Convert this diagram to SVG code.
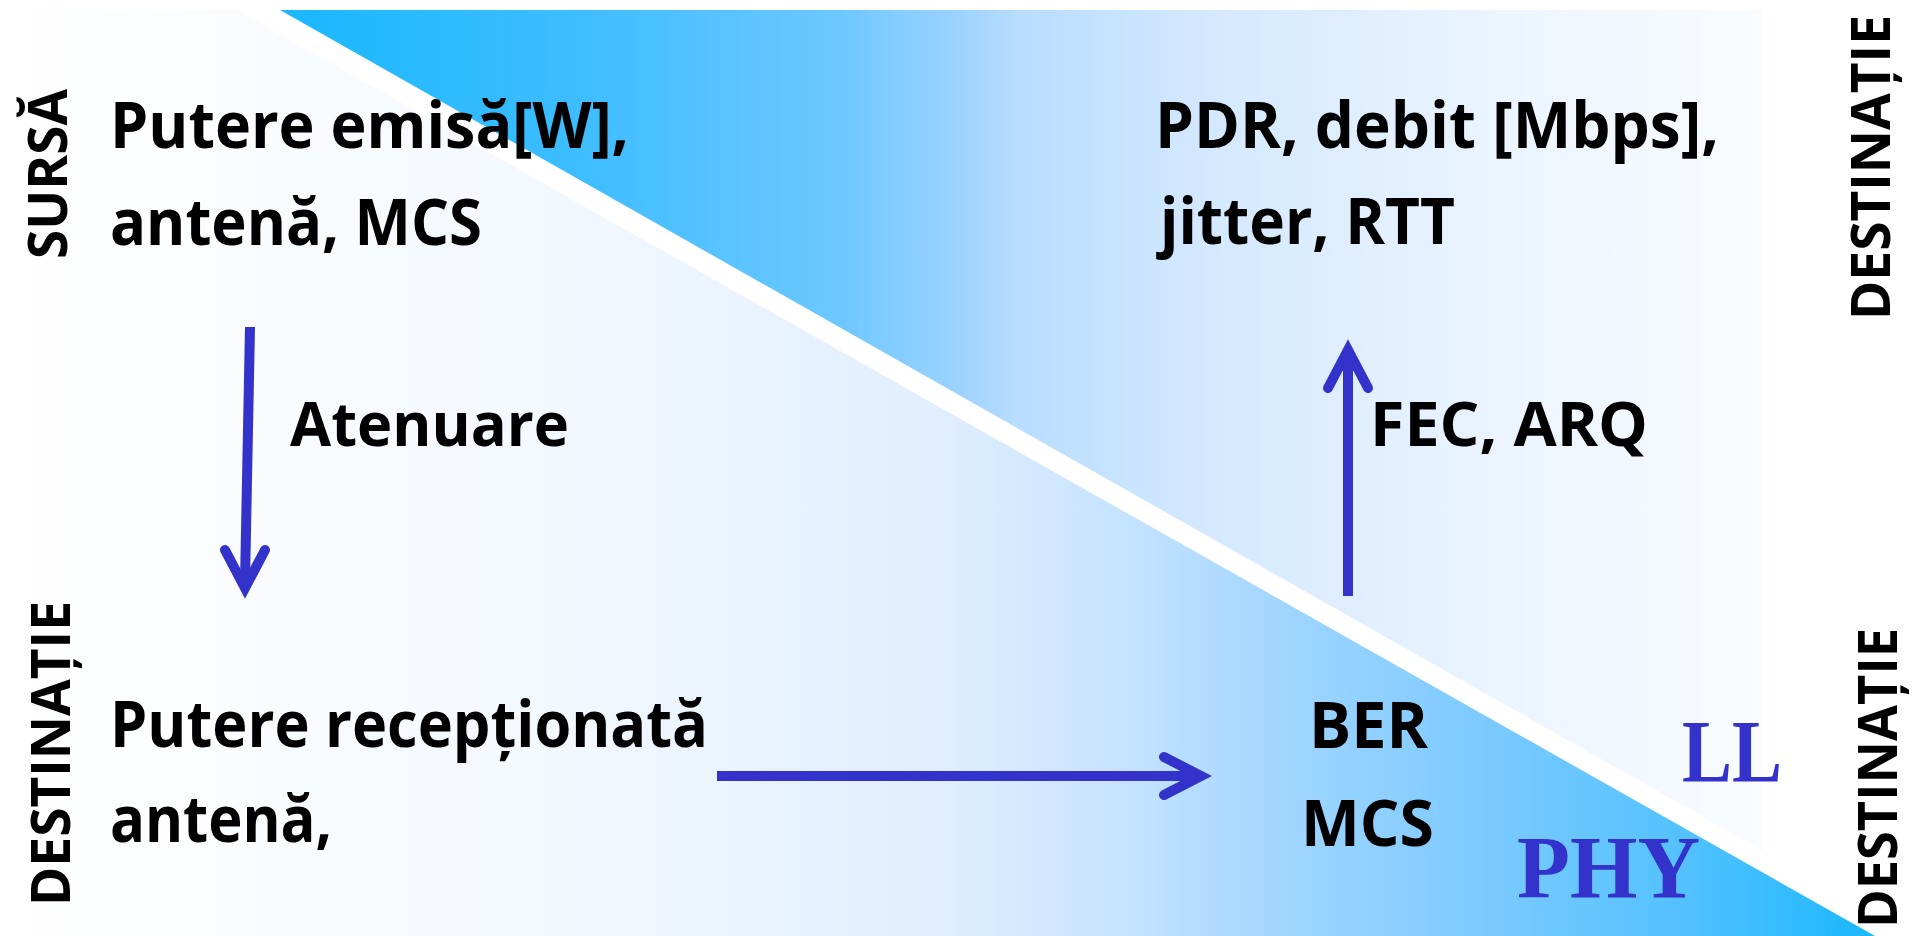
<svg xmlns="http://www.w3.org/2000/svg" width="1914" height="936" viewBox="0 0 1914 936">
  <style>
    .lbl { font-family: "Open Sans", "Noto Sans", "Liberation Sans", sans-serif; font-weight: 700; fill: #000; }
    .main { font-size: 65px; }
    .mid { font-size: 61px; }
    .side { font-size: 54px; }
    .layer { font-family: "Liberation Serif", "Times New Roman", serif; font-weight: 700; font-size: 88px; fill: #3333cc; }
    .arrow { fill: none; stroke: #3333cc; stroke-width: 10; stroke-linecap: round; stroke-linejoin: miter; }
    .shaft { fill: none; stroke: #3333cc; stroke-width: 10; stroke-linecap: butt; }
  </style>
  <defs>
    <linearGradient id="gradLower" gradientUnits="userSpaceOnUse" x1="0" y1="0" x2="1875" y2="0">
      <stop offset="0" stop-color="#ffffff"/>
      <stop offset="0.3" stop-color="#f3f8ff"/>
      <stop offset="0.5" stop-color="#e0eeff"/>
      <stop offset="0.6" stop-color="#c6e3ff"/>
      <stop offset="0.68" stop-color="#a2d6ff"/>
      <stop offset="0.78" stop-color="#80cbff"/>
      <stop offset="0.9" stop-color="#52c1fe"/>
      <stop offset="1" stop-color="#19b7ff"/>
    </linearGradient>
    <linearGradient id="gradUpper" gradientUnits="userSpaceOnUse" x1="280" y1="0" x2="1763" y2="0">
      <stop offset="0" stop-color="#19b7ff"/>
      <stop offset="0.2" stop-color="#3dbdff"/>
      <stop offset="0.38" stop-color="#6ec8ff"/>
      <stop offset="0.45" stop-color="#98d1ff"/>
      <stop offset="0.5" stop-color="#b9ddfe"/>
      <stop offset="0.62" stop-color="#d3e8ff"/>
      <stop offset="0.82" stop-color="#ebf4ff"/>
      <stop offset="1" stop-color="#fafcff"/>
    </linearGradient>
  </defs>

  <rect x="0" y="0" width="1914" height="936" fill="#ffffff"/>

  <!-- two layer wedges separated by a white band -->
  <g id="wedges">
    <polygon id="wedge-phy" points="0,10 237,10 1875,936 0,936" fill="url(#gradLower)"/>
    <polygon id="wedge-ll" points="280,10 1763,10 1763,851" fill="url(#gradUpper)"/>
  </g>

  <!-- side labels -->
  <g id="side-labels">
    <text class="lbl side" transform="translate(67,259) rotate(-90)" textLength="170" lengthAdjust="spacingAndGlyphs">SURSĂ</text>
    <text class="lbl side" transform="translate(70,906) rotate(-90)" textLength="305" lengthAdjust="spacingAndGlyphs">DESTINAȚIE</text>
    <text class="lbl side" transform="translate(1890,320) rotate(-90)" textLength="305" lengthAdjust="spacingAndGlyphs">DESTINAȚIE</text>
    <text class="lbl side" transform="translate(1897,928) rotate(-90)" textLength="300" lengthAdjust="spacingAndGlyphs">DESTINAȚIE</text>
  </g>

  <g id="node-source">
    <text class="lbl main" x="110" y="148" textLength="519" lengthAdjust="spacingAndGlyphs">Putere emisă[W],</text>
    <text class="lbl main" x="110" y="245" textLength="372" lengthAdjust="spacingAndGlyphs">antenă, MCS</text>
  </g>

  <g id="node-received">
    <text class="lbl main" x="110" y="747" textLength="598" lengthAdjust="spacingAndGlyphs">Putere recepționată</text>
    <text class="lbl main" x="110" y="842" textLength="222" lengthAdjust="spacingAndGlyphs">antenă,</text>
  </g>

  <g id="node-ber">
    <text class="lbl main" x="1309" y="748" textLength="119" lengthAdjust="spacingAndGlyphs">BER</text>
    <text class="lbl main" x="1301" y="846" textLength="133" lengthAdjust="spacingAndGlyphs">MCS</text>
  </g>

  <g id="node-metrics">
    <text class="lbl main" x="1155" y="148" textLength="564" lengthAdjust="spacingAndGlyphs">PDR, debit [Mbps],</text>
    <text class="lbl main" x="1160" y="244" textLength="295" lengthAdjust="spacingAndGlyphs">jitter, RTT</text>
  </g>

  <g id="layer-labels">
    <text class="layer" x="1682" y="781" textLength="100" lengthAdjust="spacingAndGlyphs">LL</text>
    <text class="layer" x="1517" y="897" textLength="183" lengthAdjust="spacingAndGlyphs">PHY</text>
  </g>

  <!-- connectors -->
  <g id="connectors">
    <path class="shaft" d="M250,327 L245,582"/>
    <path class="arrow" d="M225,550 L245,588 L265,550"/>
    <text class="lbl mid" x="290" y="446" textLength="279" lengthAdjust="spacingAndGlyphs">Atenuare</text>

    <path class="shaft" d="M717,776 L1195,776"/>
    <path class="arrow" d="M1164,757 L1201,776 L1164,795"/>

    <path class="shaft" d="M1348,596 L1348,356"/>
    <path class="arrow" d="M1328,388 L1348,350 L1368,388"/>
    <text class="lbl mid" x="1370" y="446" textLength="278" lengthAdjust="spacingAndGlyphs">FEC, ARQ</text>
  </g>
</svg>
